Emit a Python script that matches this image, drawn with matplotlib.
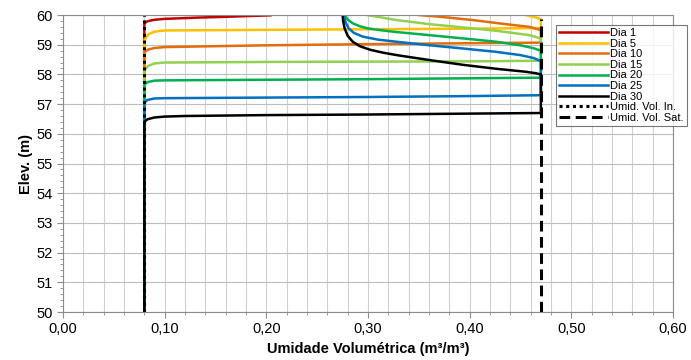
import matplotlib
matplotlib.use('Agg')
import matplotlib.pyplot as plt
from matplotlib.ticker import MultipleLocator, FuncFormatter

plt.rcParams['font.family'] = ['Liberation Sans', 'DejaVu Sans']

# profiles: moisture (m3/m3) vs elevation (m)
theta_d1 = [0.08, 0.08, 0.083, 0.09, 0.10, 0.13, 0.16, 0.204]
elev_d1 = [50.0, 59.72, 59.79, 59.84, 59.87, 59.91, 59.94, 59.99]

theta_d5 = [0.08, 0.08, 0.084, 0.09, 0.10, 0.20, 0.30, 0.40, 0.47, 0.47, 0.465, 0.455]
elev_d5 = [50.0, 59.15, 59.35, 59.44, 59.48, 59.50, 59.52, 59.54, 59.56, 59.86, 59.92, 60.0]

theta_d10 = [0.08, 0.08, 0.084, 0.09, 0.10, 0.20, 0.30, 0.40, 0.47, 0.47, 0.459, 0.436, 0.403, 0.371, 0.35]
elev_d10 = [50.0, 58.75, 58.84, 58.89, 58.92, 58.98, 59.02, 59.05, 59.07, 59.49, 59.60, 59.69, 59.83, 59.94, 60.0]

theta_d15 = [0.08, 0.08, 0.084, 0.09, 0.10, 0.20, 0.30, 0.40, 0.47, 0.47, 0.459, 0.426, 0.394, 0.361, 0.328, 0.299]
elev_d15 = [50.0, 58.15, 58.29, 58.37, 58.40, 58.42, 58.43, 58.44, 58.46, 59.21, 59.32, 59.47, 59.58, 59.69, 59.83, 60.0]

theta_d20 = [0.08, 0.08, 0.083, 0.09, 0.10, 0.20, 0.30, 0.40, 0.47, 0.47, 0.463, 0.45, 0.426, 0.394, 0.361,
             0.33, 0.312, 0.30, 0.292, 0.285, 0.280, 0.277]
elev_d20 = [50.0, 57.65, 57.74, 57.79, 57.80, 57.82, 57.84, 57.87, 57.89, 58.80, 58.88, 58.98, 59.10, 59.21, 59.32,
            59.42, 59.49, 59.55, 59.62, 59.72, 59.85, 60.0]

theta_d25 = [0.08, 0.08, 0.083, 0.09, 0.10, 0.20, 0.30, 0.40, 0.47, 0.47, 0.463, 0.45, 0.426, 0.394, 0.361,
             0.328, 0.31, 0.295, 0.286, 0.281, 0.278, 0.276]
elev_d25 = [50.0, 57.05, 57.14, 57.19, 57.20, 57.22, 57.24, 57.27, 57.30, 58.45, 58.55, 58.65, 58.76, 58.87, 58.98,
            59.10, 59.17, 59.27, 59.40, 59.55, 59.75, 60.0]

theta_d30 = [0.08, 0.08, 0.083, 0.09, 0.10, 0.12, 0.20, 0.30, 0.40, 0.47, 0.47, 0.465, 0.455, 0.426, 0.394,
             0.361, 0.33, 0.315, 0.302, 0.292, 0.285, 0.280, 0.277, 0.2755, 0.275]
elev_d30 = [50.0, 56.40, 56.49, 56.55, 56.58, 56.60, 56.63, 56.65, 56.68, 56.70, 58.00, 58.04, 58.09, 58.19, 58.32,
            58.48, 58.64, 58.73, 58.83, 58.95, 59.10, 59.30, 59.55, 59.80, 60.0]

theta_ini = [0.08, 0.08]
elev_ini = [50.0, 60.0]
theta_sat = [0.47, 0.47]
elev_sat = [50.0, 59.85]

fig = plt.figure(figsize=(6.91, 3.6), dpi=100)
ax = fig.add_axes([0.0912, 0.1333, 0.8828, 0.825])

ax.plot(theta_d1, elev_d1, color='#C00000', lw=1.8, label='Dia 1')
ax.plot(theta_d5, elev_d5, color='#FFC000', lw=1.8, label='Dia 5')
ax.plot(theta_d10, elev_d10, color='#E46C0A', lw=1.8, label='Dia 10')
ax.plot(theta_d15, elev_d15, color='#92D050', lw=1.8, label='Dia 15')
ax.plot(theta_d20, elev_d20, color='#00B050', lw=1.8, label='Dia 20')
ax.plot(theta_d25, elev_d25, color='#0070C0', lw=1.8, label='Dia 25')
ax.plot(theta_d30, elev_d30, color='black', lw=1.8, label='Dia 30')
ax.plot(theta_ini, elev_ini, color='black', lw=2.2, ls=(0, (1, 1.2)), label='Umid. Vol. In.')
ax.plot(theta_sat, elev_sat, color='black', lw=2.2, ls=(0, (3.5, 1.8)), label='Umid. Vol. Sat.')

ax.set_xlim(0, 0.6)
ax.set_ylim(50, 60)
ax.xaxis.set_major_locator(MultipleLocator(0.1))
ax.xaxis.set_minor_locator(MultipleLocator(0.02))
ax.yaxis.set_major_locator(MultipleLocator(1))
ax.yaxis.set_minor_locator(MultipleLocator(0.2))
ax.xaxis.set_major_formatter(FuncFormatter(lambda v, p: ('%.2f' % v).replace('.', ',')))

# grid
ax.grid(True, which='minor', axis='x', color='#D0D0D0', lw=0.8)
ax.grid(True, which='major', axis='x', color='#D0D0D0', lw=0.8)
ax.grid(True, which='major', axis='y', color='#BDBDBD', lw=0.8)
ax.set_axisbelow(True)

for s in ax.spines.values():
    s.set_color('#8C8C8C')
    s.set_linewidth(0.8)
ax.tick_params(which='major', length=4, color='#8C8C8C', labelsize=10.5, labelcolor='black')
ax.tick_params(which='minor', length=2, color='#8C8C8C')

ax.set_xlabel('Umidade Volumétrica (m³/m³)', fontsize=10.5, fontweight='bold', labelpad=4)
ax.set_ylabel('Elev. (m)', fontsize=10.5, fontweight='bold', labelpad=2)

leg = ax.legend(loc='upper right', bbox_to_anchor=(0.994, 0.931), bbox_transform=fig.transFigure,
                fontsize=8, frameon=True, fancybox=False, handlelength=4.4,
                handletextpad=0.2, labelspacing=0.05, borderpad=0.3, borderaxespad=0)
leg.get_frame().set_edgecolor('#555555')
leg.get_frame().set_linewidth(0.8)

fig.savefig('out.png', dpi=100)
